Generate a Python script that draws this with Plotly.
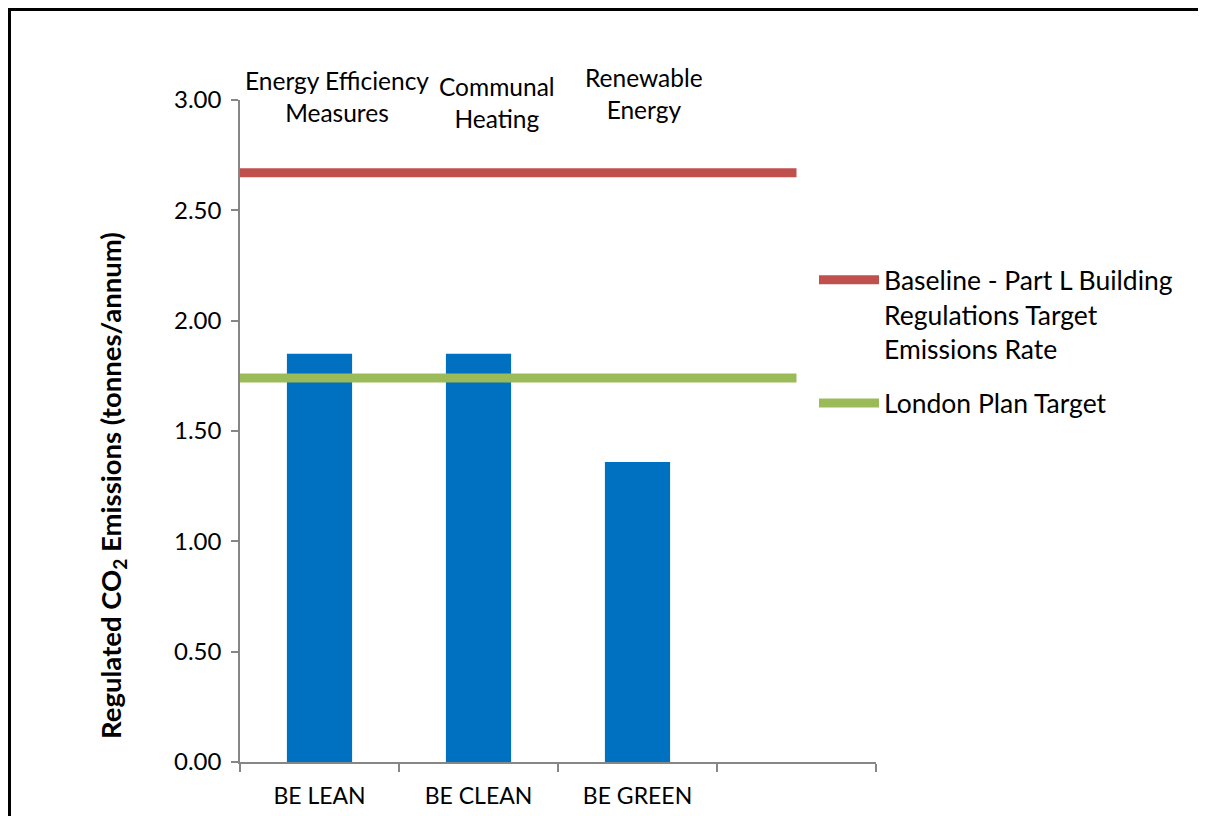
import plotly.graph_objects as go

categories = ["BE LEAN", "BE CLEAN", "BE GREEN", ""]
emissions = [1.85, 1.85, 1.36]
baseline_value = 2.67
london_target_value = 1.74
y_ticks = [0.0, 0.5, 1.0, 1.5, 2.0, 2.5, 3.0]
stage_labels = ["Energy Efficiency<br>Measures", "Communal<br>Heating", "Renewable<br>Energy"]
stage_label_x = [0.11, 1.116, 2.04]
stage_label_y = [1.0053, 0.9962, 1.0098]

FONT = "Lato"
W, H = 1198, 808
L, T, PW, PH = 232, 92, 636, 662
x_idx = list(range(len(categories)))

fig = go.Figure()
fig.add_trace(go.Bar(
    x=x_idx[:len(emissions)], y=emissions, width=0.41,
    marker=dict(color="#0070C0", line=dict(width=0)),
    showlegend=False, name="Emissions"))
line_x = [x_idx[0] - 0.5, x_idx[-1]]
fig.add_trace(go.Scatter(
    x=line_x, y=[baseline_value] * 2, mode="lines",
    line=dict(color="#C0504D", width=9), legendgroup="a",
    name="Baseline - Part L Building<br>Regulations Target<br>Emissions Rate"))
fig.add_trace(go.Scatter(
    x=line_x, y=[london_target_value] * 2, mode="lines",
    line=dict(color="#9BBB59", width=9), legendgroup="b",
    name="London Plan Target"))

for t, x, y in zip(stage_labels, stage_label_x, stage_label_y):
    fig.add_annotation(x=x, y=y, xref="x", yref="paper", text=t, showarrow=False,
                       font=dict(family=FONT, size=24.5, color="#000"),
                       xanchor="center", yanchor="middle", align="center")

fig.add_annotation(
    xref="paper", yref="paper", x=(105 - L) / PW, y=0.417,
    text="<b>Regulated CO<sub>2</sub> Emissions (tonnes/annum)</b>",
    textangle=-90, showarrow=False, xanchor="center", yanchor="middle",
    font=dict(family=FONT, size=27.5, color="#000"))

boundaries = [i - 0.5 for i in x_idx] + [x_idx[-1] + 0.5]
fig.update_xaxes(
    range=[boundaries[0], boundaries[-1]],
    tickvals=x_idx, ticktext=categories,
    ticks="outside", ticklen=13, tickcolor="rgba(0,0,0,0)",
    minor=dict(tickvals=boundaries, ticks="outside", ticklen=8, tickcolor="#868686", tickwidth=1.5),
    showline=True, linecolor="#868686", linewidth=1.5,
    showgrid=False, zeroline=False,
    tickfont=dict(family=FONT, size=23, color="#000"))
fig.update_yaxes(
    range=[0, 3], tickvals=y_ticks, ticktext=[f"{v:.2f}" for v in y_ticks],
    ticks="outside", ticklen=7, tickcolor="#868686", tickwidth=1.5,
    ticklabelstandoff=5,
    showline=True, linecolor="#868686", linewidth=1.5,
    showgrid=False, zeroline=False,
    tickfont=dict(family=FONT, size=24, color="#000"))

fig.update_layout(
    width=W, height=H,
    margin=dict(l=L, r=W - L - PW, t=T, b=H - T - PH, autoexpand=False),
    plot_bgcolor="white", paper_bgcolor="white",
    legend=dict(x=(806 - L) / PW, xanchor="left", y=(754 - 248) / PH, yanchor="top",
                font=dict(family=FONT, size=26.5, color="#000"),
                itemwidth=60, tracegroupgap=17, valign="top",
                bgcolor="rgba(0,0,0,0)"),
)
# outer chart frame (top and left edges visible)
fig.add_shape(type="line", xref="paper", yref="paper",
              x0=-L / PW, x1=(W - L) / PW,
              y0=(PH + T - 1.5) / PH, y1=(PH + T - 1.5) / PH,
              line=dict(color="#000", width=3))
fig.add_shape(type="line", xref="paper", yref="paper",
              x0=(1.5 - L) / PW, x1=(1.5 - L) / PW,
              y0=(PH + T) / PH, y1=-(H - T - PH) / PH,
              line=dict(color="#000", width=3))

fig.write_html("out.html")
